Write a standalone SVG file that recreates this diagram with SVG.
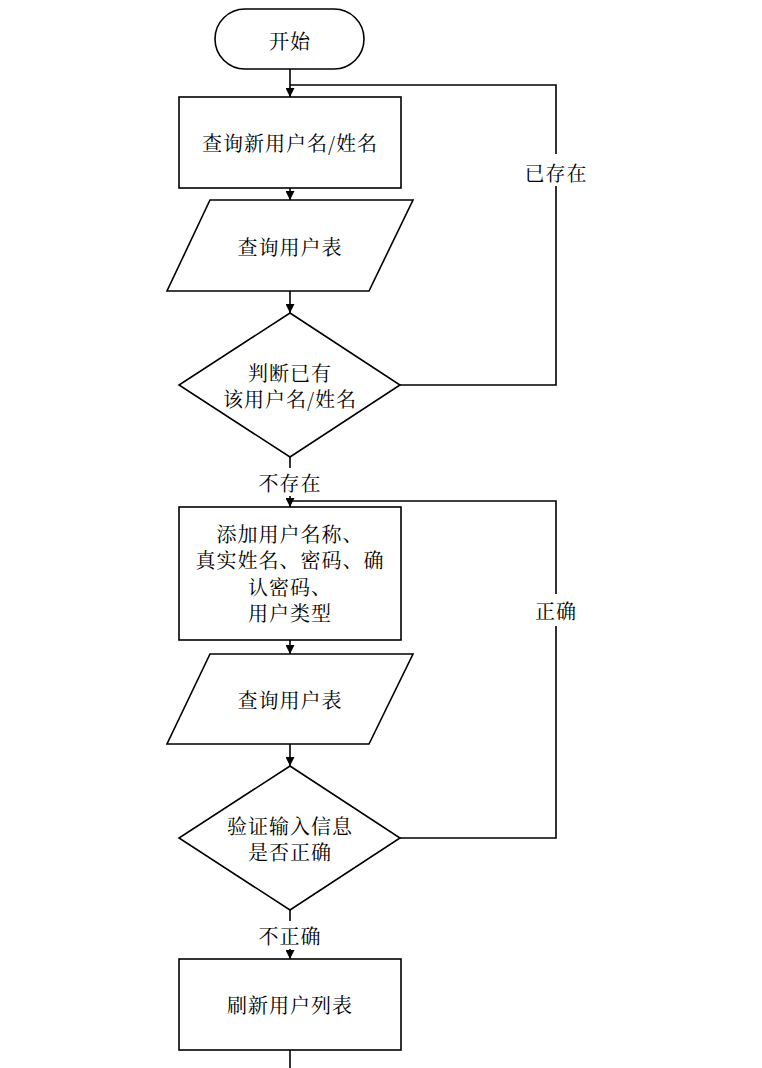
<svg xmlns="http://www.w3.org/2000/svg" width="762" height="1068" viewBox="0 0 762 1068">
<defs>
<style>
.s{fill:#fff;stroke:#000;stroke-width:1.6}
.c{fill:none;stroke:#000;stroke-width:1.6}
text{font-family:"Noto Serif CJK SC","Noto Sans CJK SC",serif;font-size:20px;letter-spacing:1px;fill:#000;text-anchor:middle;dominant-baseline:central}
</style>
<marker id="ah" viewBox="0 0 10 10" refX="10" refY="5" markerWidth="9" markerHeight="9" markerUnits="userSpaceOnUse" orient="auto">
<path d="M0,0 L10,5 L0,10 Z" fill="#000"/>
</marker>
</defs>
<rect width="762" height="1068" fill="#fff"/>
<g id="connectors">
<line class="c" x1="290" y1="69" x2="290" y2="97" marker-end="url(#ah)"/>
<line class="c" x1="290" y1="188" x2="290" y2="200" marker-end="url(#ah)"/>
<line class="c" x1="290" y1="291" x2="290" y2="313" marker-end="url(#ah)"/>
<polyline class="c" points="400,385 556,385 556,85 290,85"/>
<line class="c" x1="290" y1="457" x2="290" y2="507" marker-end="url(#ah)"/>
<line class="c" x1="290" y1="640" x2="290" y2="654" marker-end="url(#ah)"/>
<line class="c" x1="290" y1="744" x2="290" y2="766" marker-end="url(#ah)"/>
<polyline class="c" points="400,838 556,838 556,501 290,501"/>
<line class="c" x1="290" y1="910" x2="290" y2="959" marker-end="url(#ah)"/>
<line class="c" x1="290" y1="1050" x2="290" y2="1068"/>
<rect x="522" y="154" width="68" height="32" fill="#fff"/>
<text x="556" y="172">已存在</text>
<rect x="532" y="594" width="48" height="32" fill="#fff"/>
<text x="556" y="610">正确</text>
<rect x="256" y="468" width="68" height="28" fill="#fff"/>
<text x="290" y="482">不存在</text>
<rect x="256" y="921" width="68" height="28" fill="#fff"/>
<text x="290" y="935">不正确</text>
</g>
<g id="start">
<rect class="s" x="215" y="9" width="149" height="60" rx="30"/>
<text x="290" y="40">开始</text>
</g>
<g id="query-new">
<rect class="s" x="179" y="97" width="222" height="91"/>
<text x="290" y="142">查询新用户名/姓名</text>
</g>
<g id="query-table-1">
<polygon class="s" points="210,200 413,200 369,291 167,291"/>
<text x="290" y="246">查询用户表</text>
</g>
<g id="check-exists">
<polygon class="s" points="290,313 400,385 290,457 179,385"/>
<text x="290" y="372">判断已有</text>
<text x="290" y="398">该用户名/姓名</text>
</g>
<g id="add-user">
<rect class="s" x="179" y="507" width="222" height="133"/>
<text x="290" y="533">添加用户名称、</text>
<text x="290" y="559">真实姓名、密码、确</text>
<text x="290" y="586">认密码、</text>
<text x="290" y="612">用户类型</text>
</g>
<g id="query-table-2">
<polygon class="s" points="210,654 413,654 369,744 167,744"/>
<text x="290" y="699">查询用户表</text>
</g>
<g id="validate">
<polygon class="s" points="290,766 400,838 290,910 179,838"/>
<text x="290" y="825">验证输入信息</text>
<text x="290" y="851">是否正确</text>
</g>
<g id="refresh">
<rect class="s" x="179" y="959" width="222" height="91"/>
<text x="290" y="1004">刷新用户列表</text>
</g>
</svg>
